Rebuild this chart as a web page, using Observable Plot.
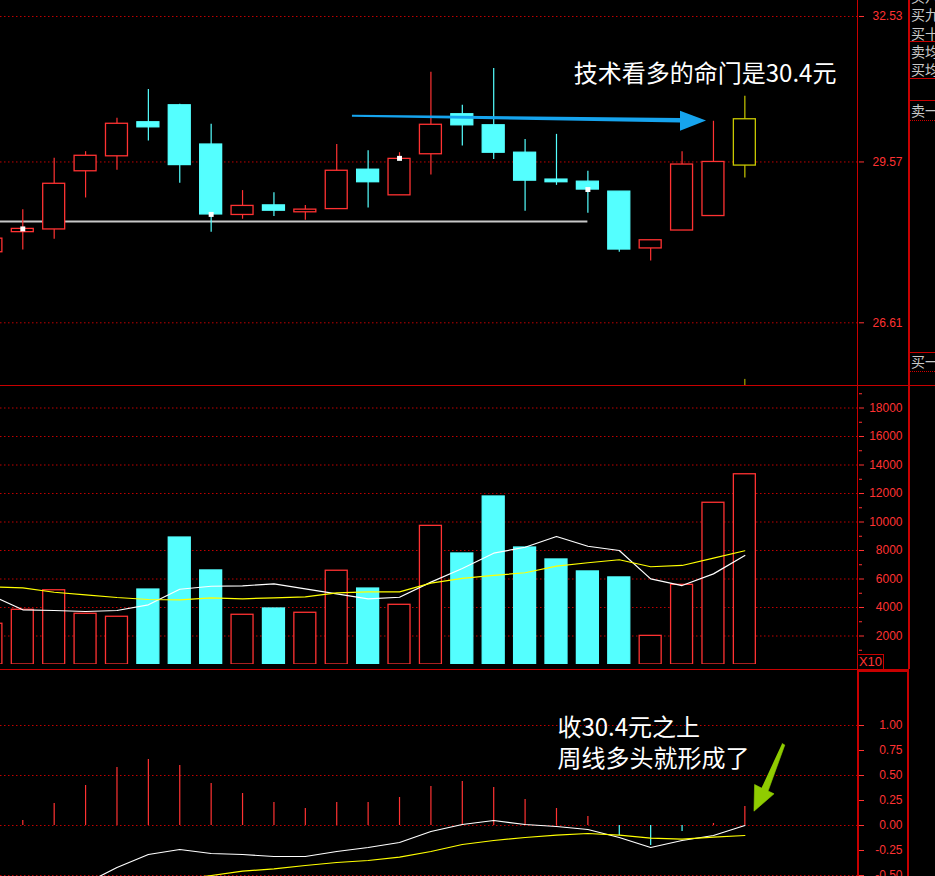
<!DOCTYPE html>
<html>
<head>
<meta charset="utf-8">
<script src="https://cdn.jsdelivr.net/npm/d3@7"></script>
<script src="https://cdn.jsdelivr.net/npm/@observablehq/plot@0.6"></script>
<style>
  html, body { margin:0; padding:0; background:#000; }
  #wrap { position:relative; width:935px; height:876px; overflow:hidden; background:#000; }
  #wrap svg { position:absolute; left:0; display:block; }
  .ln { position:absolute; background:#c80000; }
  .side { position:absolute; left:911px; color:#c8c8c8; font-family:"Noto Sans CJK SC"; font-size:14px; line-height:18.25px; white-space:pre; overflow:hidden; }
  .dots { position:absolute; left:910px; width:25px; height:0; border-top:1px dotted #d00000; }
  #x10 { position:absolute; left:857px; top:654px; width:25px; height:14px; border:1px solid #c80000; color:#ff3232; font:13px "Liberation Sans"; line-height:14px; text-align:center; }
</style>
</head>
<body>
<div id="wrap"></div>
<script>
// ---------------- data ----------------
const candleIndex = d3.range(25);
const open  = [27.87, 28.24, 28.29, 29.39, 29.68, 30.35, 30.69, 29.91, 28.56, 28.74, 28.61, 28.67, 29.42, 28.93, 29.72, 30.51, 30.29, 29.75, 29.23, 29.19, 29.00, 27.94, 28.27, 28.54, 29.50];
const close = [28.12, 28.30, 29.15, 29.69, 30.32, 30.25, 29.51, 28.57, 28.73, 28.64, 28.66, 29.40, 29.18, 29.63, 30.30, 30.29, 29.75, 29.21, 29.18, 29.04, 27.92, 28.09, 29.52, 29.57, 30.41];
const high  = [28.16, 28.66, 29.64, 29.77, 30.43, 31.01, 30.71, 30.31, 29.02, 28.98, 28.74, 29.91, 29.79, 29.75, 31.36, 30.69, 31.44, 30.01, 30.11, 29.39, 29.00, 28.09, 29.77, 30.37, 30.87];
const low   = [27.83, 27.91, 28.11, 28.88, 29.41, 29.98, 29.16, 28.24, 28.48, 28.53, 28.46, 28.67, 28.69, 28.93, 29.32, 29.88, 29.62, 28.63, 29.12, 28.59, 27.87, 27.71, 28.27, 28.54, 29.26];
const volume  = [2860, 3840, 5210, 3560, 3350, 5260, 8910, 6600, 3490, 3930, 3630, 6580, 5330, 4190, 9730, 7790, 11790, 8210, 7370, 6530, 6110, 2010, 5590, 11350, 13350];
const volMA5  = [4840, 3840, 3790, 3720, 3790, 4190, 5280, 5490, 5520, 5660, 5310, 4960, 4610, 4720, 5780, 6740, 7810, 8230, 8980, 8300, 8000, 6010, 5540, 6360, 7650];
const volMA10 = [5450, 5380, 5070, 4890, 4700, 4560, 4540, 4680, 4610, 4680, 4750, 5030, 5100, 5100, 5710, 6040, 6250, 6440, 6900, 7140, 7350, 6860, 6950, 7460, 7980];
const macdHist = [0.02, 0.05, 0.22, 0.40, 0.58, 0.66, 0.60, 0.42, 0.32, 0.23, 0.17, 0.23, 0.23, 0.28, 0.39, 0.44, 0.38, 0.26, 0.17, 0.09, -0.10, -0.20, -0.06, 0.02, 0.19];
const macdDIF  = [-0.90, -0.85, -0.75, -0.58, -0.42, -0.29, -0.24, -0.28, -0.29, -0.31, -0.31, -0.26, -0.22, -0.17, -0.06, 0.01, 0.05, 0.01, -0.01, -0.04, -0.12, -0.22, -0.15, -0.10, 0.00];
const macdDEA  = [-0.90, -0.88, -0.86, -0.78, -0.71, -0.62, -0.54, -0.50, -0.457, -0.433, -0.40, -0.37, -0.35, -0.317, -0.26, -0.19, -0.15, -0.12, -0.097, -0.08, -0.097, -0.127, -0.137, -0.117, -0.10];

const priceTicks = [26.61, 29.57, 32.53];
const volumeTicks = [2000, 4000, 6000, 8000, 10000, 12000, 14000, 16000, 18000];
const volumeMinorTicks = [1000, 3000, 5000, 7000, 9000, 11000, 13000, 15000, 17000, 19000];
const macdTicks = [-0.5, -0.25, 0, 0.25, 0.5, 0.75, 1];
const macdGrid = [-0.5, 0, 0.5, 1];

const supportPrice = 28.44, supportEndIndex = 19;
const markerIndex = [1, 7, 13, 19];
const markerPrice = [28.30, 28.57, 29.64, 29.04];
const selectedIndex = 24;

const note1Text = "技术看多的命门是30.4元";
const note2Text = ["收30.4元之上", "周线多头就形成了"];
const sideLabelsTop = ["买八", "买九", "买十", "卖均", "买均"];
const sideLabelsMid = ["卖一", "买一"];

// annotation anchors in data units (index, price / value)
const note1Anchor = {i: 18.55, p: 31.32};
const note2Anchor = {i: 18.03, v: 0.835};
const blueShaft = [{i: 11.50, lo: 30.451, hi: 30.491}, {i: 21.95, lo: 30.335, hi: 30.423}];
const blueHead  = [{i: 21.95, lo: 30.173, hi: 30.571}, {i: 22.78, lo: 30.375, hi: 30.375}];
const greenArrow = [
  {i: 25.187, v: 0.82}, {i: 25.273, v: 0.805}, {i: 24.74, v: 0.345}, {i: 24.93, v: 0.317},
  {i: 24.29, v: 0.143}, {i: 24.31, v: 0.41}, {i: 24.53, v: 0.375}
];

// ---------------- layout / style ----------------
const W = 935, MR = 77;
const xDomain = [0.29, 27.62];
const RED = "#ff3232", CYAN = "#54ffff", SEL = "#c8c800", GRID = "#c00000";
const candles = candleIndex.map(i => ({i, o: open[i], c: close[i], h: high[i], l: low[i], v: volume[i]}));
const up = d => d.c >= d.o;
const candleColor = d => d.i === selectedIndex ? SEL : (up(d) ? RED : CYAN);
const half = 0.35;
const baseStyle = {background: "transparent", color: RED, fontFamily: "Liberation Sans", fontSize: "12px", overflow: "visible"};
const axisOpts = {anchor: "right", tickSize: 5, tickPadding: 39, textAnchor: "end", label: null, fontSize: 12};

const wrap = document.getElementById("wrap");

// ---------- price panel ----------
const priceDomain = [25.538, 32.873];
const pricePlot = Plot.plot({
  width: W, height: 385, marginLeft: 0, marginRight: MR, marginTop: 0, marginBottom: 0,
  style: baseStyle,
  x: {domain: xDomain, axis: null},
  y: {type: "log", domain: priceDomain, axis: null},
  color: {type: "identity"},
  marks: [
    Plot.gridY(priceTicks, {stroke: GRID, strokeOpacity: 1, strokeDasharray: "1.5,2.5"}),
    Plot.ruleY([supportPrice], {x1: () => 0, x2: () => supportEndIndex, stroke: "#c8c8c8", strokeWidth: 2, clip: true}),
    Plot.ruleX(candles, {x: "i", y1: "l", y2: "h", stroke: candleColor, strokeWidth: 1.2, clip: true}),
    Plot.rect(candles, {x1: d => d.i - half, x2: d => d.i + half, y1: "o", y2: "c",
      fill: d => (d.i !== selectedIndex && !up(d)) ? CYAN : "#000", stroke: candleColor, strokeWidth: 1.3, clip: true}),
    Plot.dot(markerIndex.map((i, k) => ({i, p: markerPrice[k]})), {x: "i", y: "p", symbol: "square", r: 2.8, fill: "#fff"}),
    Plot.ruleX([selectedIndex], {x: d => d, y1: () => 25.64, y2: () => priceDomain[0], stroke: SEL}),
    Plot.areaY(blueShaft, {x: "i", y1: "lo", y2: "hi", fill: "#16a4ee"}),
    Plot.areaY(blueHead, {x: "i", y1: "lo", y2: "hi", fill: "#16a4ee"}),
    Plot.text([note1Anchor], {x: "i", y: "p", text: () => note1Text, textAnchor: "start", fill: "#fff",
      fontSize: 24, fontFamily: "Noto Sans CJK SC"}),
    Plot.axisY(priceTicks, {...axisOpts, tickFormat: d => d.toFixed(2)})
  ]
});
pricePlot.style.top = "0px";
wrap.appendChild(pricePlot);

// ---------- volume panel ----------
const volTable = candles.map(d => ({...d, ma5: volMA5[d.i], ma10: volMA10[d.i]}));
const volPlot = Plot.plot({
  width: W, height: 284, marginLeft: 0, marginRight: MR, marginTop: 0, marginBottom: 5,
  style: baseStyle,
  x: {domain: xDomain, axis: null},
  y: {domain: [0, 19579], axis: null},
  color: {type: "identity"},
  marks: [
    Plot.gridY(volumeTicks, {stroke: GRID, strokeOpacity: 1, strokeDasharray: "1.5,2.5"}),
    Plot.rect(volTable, {x1: d => d.i - half, x2: d => d.i + half, y1: () => 0, y2: "v",
      fill: d => up(d) ? "#000" : CYAN, stroke: d => up(d) ? RED : CYAN, strokeWidth: 1.3, clip: true}),
    Plot.line(volTable, {x: "i", y: "ma5", stroke: "#ffffff", strokeWidth: 1.2, clip: true}),
    Plot.line(volTable, {x: "i", y: "ma10", stroke: "#ffff00", strokeWidth: 1.2, clip: true}),
    Plot.axisY(volumeMinorTicks, {anchor: "right", tickSize: 3, tickFormat: () => "", label: null}),
    Plot.axisY(volumeTicks, {...axisOpts, tickFormat: d => String(d)})
  ]
});
volPlot.style.top = "385px";
wrap.appendChild(volPlot);

// ---------- MACD panel ----------
const macdTable = candleIndex.map(i => ({i, h: macdHist[i], dif: macdDIF[i], dea: macdDEA[i]}));
const macdPlot = Plot.plot({
  width: W, height: 207, marginLeft: 0, marginRight: MR, marginTop: 0, marginBottom: 0,
  style: baseStyle,
  x: {domain: xDomain, axis: null},
  y: {domain: [-0.51, 1.56], axis: null},
  color: {type: "identity"},
  marks: [
    Plot.gridY(macdGrid, {stroke: GRID, strokeOpacity: 1, strokeDasharray: "1.5,2.5"}),
    Plot.ruleX(macdTable, {x: "i", y1: () => 0, y2: "h", stroke: d => d.h >= 0 ? RED : CYAN, strokeWidth: 1.2, clip: true}),
    Plot.line(macdTable, {x: "i", y: "dif", stroke: "#ffffff", strokeWidth: 1.2, clip: true}),
    Plot.line(macdTable, {x: "i", y: "dea", stroke: "#ffff00", strokeWidth: 1.2, clip: true}),
    Plot.text([note2Anchor], {x: "i", y: "v", text: () => note2Text.join("\n"), textAnchor: "start", fill: "#fff",
      fontSize: 24, lineHeight: 1.29, fontFamily: "Noto Sans CJK SC"}),
    Plot.line(greenArrow, {x: "i", y: "v", fill: "#8fcc00", stroke: "#8fcc00", strokeWidth: 0.6}),
    Plot.axisY(macdTicks, {...axisOpts, tickFormat: d => d.toFixed(2)})
  ]
});
macdPlot.style.top = "669px";
wrap.appendChild(macdPlot);

// ---------- panel frame (layout decoration) ----------
function box(cls, l, t, w, h) {
  const e = document.createElement("div");
  e.className = cls;
  Object.assign(e.style, {left: l + "px", top: t + "px", width: w + "px", height: h + "px"});
  wrap.appendChild(e);
  return e;
}
box("ln", 857, 0, 1, 669);
box("ln", 908, 0, 1.5, 669);
box("ln", 0, 385, 935, 1);
box("ln", 0, 669, 857, 1);
box("ln", 857, 669, 52, 3);
box("ln", 857, 669, 2, 207);
box("ln", 907, 669, 2, 207);
[41, 78, 100, 352].forEach(y => box("ln", 909, y, 26, 1));
[120, 371].forEach(y => box("dots", 910, y, 25, 0));
box("side", 911, -13, 24, 91).textContent = sideLabelsTop.join("\n");
box("side", 911, 101, 24, 18).textContent = sideLabelsMid[0];
box("side", 911, 352, 24, 18).textContent = sideLabelsMid[1];
const x10 = document.createElement("div");
x10.id = "x10"; x10.textContent = "X10";
wrap.appendChild(x10);
</script>
</body>
</html>
